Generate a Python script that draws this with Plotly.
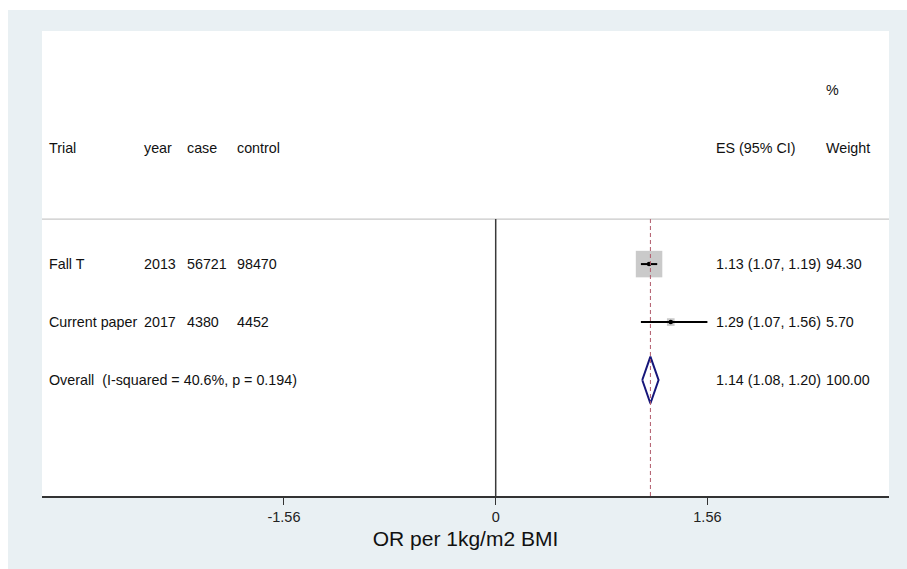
import plotly.graph_objects as go

# ---- data ----
trials = ["Fall T", "Current paper"]
years = ["2013", "2017"]
cases = ["56721", "4380"]
controls = ["98470", "4452"]
es = [1.13, 1.29]
lo = [1.07, 1.07]
hi = [1.19, 1.56]
weights = [94.30, 5.70]
overall_label = "Overall  (I-squared = 40.6%, p = 0.194)"
overall_es, overall_lo, overall_hi = 1.14, 1.08, 1.20
overall_weight = 100.00
tick_vals = [-1.56, 0, 1.56]
tick_text = ["-1.56", "0", "1.56"]
x_title = "OR per 1kg/m2 BMI"

# ---- layout constants ----
W, H = 907, 569
ML, MR, MT, MB = 42, 18, 31, 73
XMIN, XMAX = -3.343, 2.898
YMAX = 8.02
row_y = [4, 3]
overall_y = 2
header_y = 6
pct_y = 7
hline_y = 4.776
FONT = "Liberation Sans, Arial, sans-serif"
TXT = "#111111"
BG = "#e9f0f3"

col_x = {"trial": -3.303, "year": -2.604, "case": -2.293, "control": -1.924,
         "es": 1.607, "weight": 2.418}

fig = go.Figure()

# weight boxes
max_w = max(weights)
box_sizes = [25 * (w / max_w) ** 0.5 + 1.5 for w in weights]
fig.add_trace(go.Scatter(x=es, y=row_y, mode="markers",
                         marker=dict(symbol="square", size=box_sizes, color="#b4b4b4",
                                     line=dict(width=0)),
                         showlegend=False, hoverinfo="skip"))
# CI lines
for i in range(len(trials)):
    fig.add_trace(go.Scatter(x=[lo[i], hi[i]], y=[row_y[i], row_y[i]], mode="lines",
                             line=dict(color="#000000", width=2), hoverinfo="skip",
                             showlegend=False))
# point estimates
fig.add_trace(go.Scatter(x=es, y=row_y, mode="markers",
                         marker=dict(symbol="circle", size=4.5, color="#000000"),
                         showlegend=False, hoverinfo="skip"))

# overall diamond
dh = 0.405
fig.add_trace(go.Scatter(
    x=[overall_lo, overall_es, overall_hi, overall_es, overall_lo],
    y=[overall_y, overall_y + dh, overall_y, overall_y - dh, overall_y],
    mode="lines", fill="toself", fillcolor="white",
    line=dict(color="#16167a", width=2), showlegend=False, hoverinfo="skip"))

shapes = [
    # top / left white strips of the page
    dict(type="rect", xref="paper", yref="paper", x0=-0.06, x1=-(ML - 8) / (W - ML - MR),
         y0=-0.2, y1=1.1, fillcolor="white", line=dict(width=0), layer="below"),
    dict(type="rect", xref="paper", yref="paper", x0=-0.06, x1=1.05,
         y0=(H - MB - 10) / (H - MT - MB), y1=1.1, fillcolor="white", line=dict(width=0),
         layer="below"),
    # header separator
    dict(type="line", xref="paper", yref="y", x0=0, x1=1, y0=hline_y, y1=hline_y,
         line=dict(color="#c8c8c8", width=1.2)),
    # null line
    dict(type="line", xref="x", yref="y", x0=0, x1=0, y0=0, y1=hline_y,
         line=dict(color="#3a3a3a", width=1.5)),
    # overall effect line
    dict(type="line", xref="x", yref="y", x0=overall_es, x1=overall_es, y0=0, y1=hline_y,
         line=dict(color="#b05a6a", width=1, dash="4px,3px")),
]

ann = []
def t(x, y, s):
    ann.append(dict(x=x, y=y, xref="x", yref="y", text=s, showarrow=False,
                    xanchor="left", yanchor="middle",
                    font=dict(family=FONT, size=14.3, color=TXT)))

t(col_x["trial"], header_y, "Trial")
t(col_x["year"], header_y, "year")
t(col_x["case"], header_y, "case")
t(col_x["control"], header_y, "control")
t(col_x["es"], header_y, "ES (95% CI)")
t(col_x["weight"], header_y, "Weight")
t(col_x["weight"], pct_y, "%")
for i in range(len(trials)):
    t(col_x["trial"], row_y[i], trials[i])
    t(col_x["year"], row_y[i], years[i])
    t(col_x["case"], row_y[i], cases[i])
    t(col_x["control"], row_y[i], controls[i])
    t(col_x["es"], row_y[i], f"{es[i]:.2f} ({lo[i]:.2f}, {hi[i]:.2f})")
    t(col_x["weight"], row_y[i], f"{weights[i]:.2f}")
t(col_x["trial"], overall_y, overall_label)
t(col_x["es"], overall_y, f"{overall_es:.2f} ({overall_lo:.2f}, {overall_hi:.2f})")
t(col_x["weight"], overall_y, f"{overall_weight:.2f}")

fig.update_layout(
    width=W, height=H,
    margin=dict(l=ML, r=MR, t=MT, b=MB, pad=0),
    paper_bgcolor=BG, plot_bgcolor="white",
    shapes=shapes, annotations=ann, showlegend=False,
    xaxis=dict(range=[XMIN, XMAX], tickvals=tick_vals, ticktext=tick_text,
               showgrid=False, zeroline=False, showline=True, linecolor="#333333",
               linewidth=1.5, ticks="outside", ticklen=7, tickwidth=1.2,
               tickcolor="#333333",
               tickfont=dict(family=FONT, size=14.5, color="#222222"),
               title=dict(text=x_title, standoff=7,
                          font=dict(family=FONT, size=21, color="#111111")),
               fixedrange=True),
    yaxis=dict(range=[0, YMAX], visible=False, showgrid=False, zeroline=False,
               fixedrange=True),
)

fig.write_html("out.html")
